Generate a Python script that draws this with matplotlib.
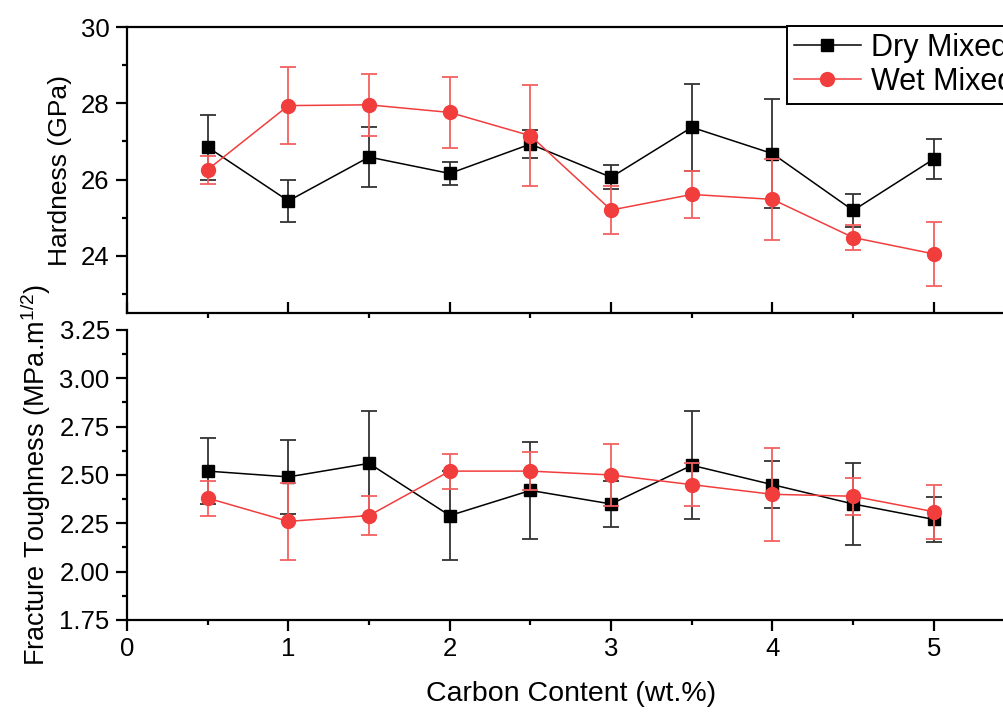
import numpy as np
import matplotlib
matplotlib.use("Agg")
import matplotlib.pyplot as plt

plt.rcParams['font.family'] = ['Liberation Sans', 'DejaVu Sans']
plt.rcParams['mathtext.fontset'] = 'custom'
plt.rcParams['mathtext.rm'] = 'Liberation Sans'
plt.rcParams['mathtext.it'] = 'Liberation Sans'

carbon = [0.5, 1.0, 1.5, 2.0, 2.5, 3.0, 3.5, 4.0, 4.5, 5.0]

# hardness (GPa)
hard_dry = [26.85, 25.44, 26.59, 26.16, 26.93, 26.06, 27.37, 26.68, 25.19, 26.54]
hard_dry_err = [0.85, 0.54, 0.78, 0.30, 0.37, 0.31, 1.14, 1.42, 0.43, 0.53]
hard_wet = [26.26, 27.94, 27.96, 27.76, 27.15, 25.20, 25.61, 25.48, 24.48, 24.05]
hard_wet_err = [0.37, 1.00, 0.82, 0.94, 1.32, 0.62, 0.62, 1.07, 0.32, 0.85]

# fracture toughness (MPa.m^1/2)
kic_dry = [2.52, 2.49, 2.56, 2.29, 2.42, 2.35, 2.55, 2.45, 2.35, 2.27]
kic_dry_err = [0.17, 0.19, 0.27, 0.23, 0.25, 0.12, 0.28, 0.12, 0.21, 0.115]
kic_wet = [2.38, 2.26, 2.29, 2.52, 2.52, 2.50, 2.45, 2.40, 2.39, 2.31]
kic_wet_err = [0.09, 0.20, 0.10, 0.09, 0.10, 0.16, 0.11, 0.24, 0.095, 0.14]

red = '#F23D3D'

fig = plt.figure(figsize=(10.04, 7.15), dpi=100)
ax1 = fig.add_axes([0.1265, 0.5622, 0.884, 0.400])
ax2 = fig.add_axes([0.1265, 0.1329, 0.884, 0.4056])


def draw(ax, dry, dry_err, wet, wet_err):
    eb1 = ax.errorbar(carbon, dry, yerr=dry_err, color='black', ecolor='#333333',
                      lw=1.1, elinewidth=1.3, capsize=6, capthick=1.3,
                      marker='s', ms=9, zorder=3)
    eb2 = ax.errorbar(carbon, wet, yerr=wet_err, color=red, ecolor='#F46060',
                      lw=1.1, elinewidth=1.3, capsize=6, capthick=1.3,
                      marker='o', ms=10, zorder=4)
    return eb1, eb2


eb1, eb2 = draw(ax1, hard_dry, hard_dry_err, hard_wet, hard_wet_err)
draw(ax2, kic_dry, kic_dry_err, kic_wet, kic_wet_err)

for ax in (ax1, ax2):
    ax.set_xlim(0, 5.5)
    ax.set_xticks(np.arange(0, 6, 1))
    ax.set_xticks(np.arange(0.5, 6, 1), minor=True)
    for s in ax.spines.values():
        s.set_linewidth(1.6)
    ax.spines['right'].set_visible(False)
    ax.tick_params(axis='both', which='major', length=8, width=1.6, labelsize=18.5, pad=4.5)
    ax.tick_params(axis='both', which='minor', length=3.5, width=1.6)
    ax.tick_params(axis='y', which='both', direction='out')

ax1.set_ylim(22.5, 30)
ax1.set_yticks([24, 26, 28, 30])
ax1.set_yticks([23, 25, 27, 29], minor=True)
ax1.tick_params(axis='x', which='major', direction='in', labelbottom=False)
ax1.tick_params(axis='x', which='minor', direction='out')
ax1.set_ylabel('Hardness (GPa)', fontsize=19)
ax1.yaxis.set_label_coords(-0.062, 0.5)

ax2.set_ylim(1.75, 3.25)
ax2.set_yticks(np.arange(1.75, 3.26, 0.25))
ax2.set_yticks(np.arange(1.875, 3.25, 0.25), minor=True)
ax2.set_yticklabels(['%.2f' % v for v in np.arange(1.75, 3.26, 0.25)])
ax2.tick_params(axis='x', which='both', direction='out')
ax2.spines['top'].set_visible(False)
ax2.set_ylabel(r'Fracture Toughness (MPa.m$^{1/2}$)', fontsize=19.5)
ax2.yaxis.set_label_coords(-0.083, 0.5)
ax2.set_xlabel('Carbon Content (wt.%)', fontsize=20.5, labelpad=14)

leg = ax1.legend([eb1[0], eb2[0]], ['Dry Mixed', 'Wet Mixed'], loc='upper left',
                 bbox_to_anchor=(787 / 1004, 1 - 26 / 715), bbox_transform=fig.transFigure,
                 fontsize=22, fancybox=False, edgecolor='black', framealpha=1,
                 handlelength=2.19, borderpad=0.22, labelspacing=0.14, handletextpad=0.33,
                 borderaxespad=0)
leg.get_frame().set_linewidth(1.4)

fig.savefig('out.png', dpi=100)
